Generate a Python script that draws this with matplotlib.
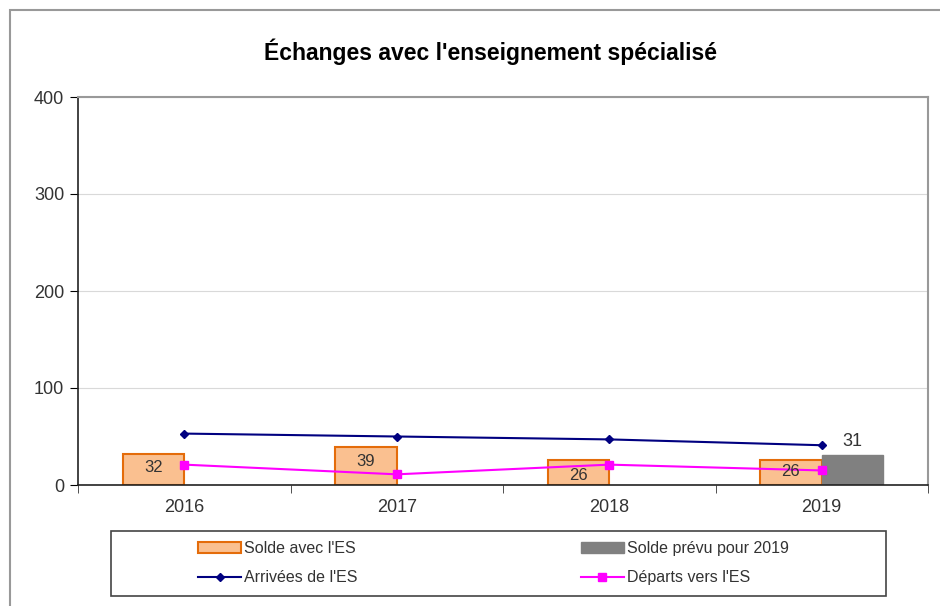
import matplotlib.pyplot as plt
import numpy as np
from matplotlib.patches import Rectangle

plt.rcParams["font.family"] = ["Liberation Sans", "DejaVu Sans"]

years = ["2016", "2017", "2018", "2019"]
solde = [32, 39, 26, 26]
solde_prevu = [0, 0, 0, 31]
arrivees = [53, 50, 47, 41]
departs = [21, 11, 21, 15]
label_y = [18, 24, 10, 14]

fig = plt.figure(figsize=(9.4, 6.06), dpi=100)
W, H = 940, 606
ax = fig.add_axes([78 / W, 1 - 485 / H, (928 - 78) / W, (485 - 97) / H])

x = np.arange(len(years))
width = 0.29
ax.bar(x - width / 2, solde, width=width, color="#FAC090", edgecolor="#E46C0A",
       linewidth=1.5, zorder=2, label="Solde avec l'ES")
ax.bar(x[-1:] + width / 2, solde_prevu[-1:], width=width, color="#808080",
       edgecolor="#808080", zorder=2, label="Solde prévu pour 2019")
ax.plot(x, arrivees, color="#000080", marker="D", markersize=4, linewidth=1.5,
        zorder=3, label="Arrivées de l'ES")
ax.plot(x, departs, color="#FF00FF", marker="s", markersize=6, linewidth=1.5,
        zorder=3, label="Départs vers l'ES")

for i, (v, ly) in enumerate(zip(solde, label_y)):
    ax.text(x[i] - width / 2, ly, str(v), ha="center", va="center", fontsize=12,
            color="#333333", zorder=4)
ax.text(x[-1] + width / 2, 45, str(solde_prevu[-1]), ha="center", va="center",
        fontsize=13, color="#333333", zorder=4)

ax.set_xlim(-0.5, len(years) - 0.5)
ax.set_ylim(0, 400)
ax.set_yticks([0, 100, 200, 300, 400])
ax.yaxis.grid(True, color="#d9d9d9", linewidth=0.8, zorder=0)
ax.set_axisbelow(True)
ax.set_xticks(x)
ax.set_xticklabels(years)
ax.set_xticks(np.arange(len(years) + 1) - 0.5, minor=True)
ax.tick_params(axis="x", which="major", length=0, pad=10, labelsize=13, labelcolor="#333333")
ax.tick_params(axis="x", which="minor", length=6, direction="out", color="#333333")
ax.tick_params(axis="y", length=6, direction="out", labelsize=13, labelcolor="#333333", pad=4)
for side in ("left", "bottom"):
    ax.spines[side].set_color("#222222")
    ax.spines[side].set_linewidth(1.2)
for side in ("top", "right"):
    ax.spines[side].set_color("#999999")
    ax.spines[side].set_linewidth(1.5)

fig.text(491 / W, 1 - 52 / H, "Échanges avec l'enseignement spécialisé",
         ha="center", va="center", fontsize=16.5, fontweight="bold")

# outer chart frame
fig.patches.append(Rectangle((10 / W, -0.1), 1.2, 1 - 10 / H + 0.1, transform=fig.transFigure,
                             fill=False, edgecolor="#999999", linewidth=1.5))
# legend frame
fig.patches.append(Rectangle((111 / W, 1 - 596 / H), (886 - 111) / W, (596 - 531) / H,
                             transform=fig.transFigure, fill=False, edgecolor="#444444",
                             linewidth=1.2))

handles, labels = ax.get_legend_handles_labels()
by_label = dict(zip(labels, handles))
order = ["Solde avec l'ES", "Arrivées de l'ES", "Solde prévu pour 2019", "Départs vers l'ES"]
fig.legend([by_label[k] for k in order], order, ncol=2,
           loc="center left", bbox_to_anchor=(190 / W, 1 - 563 / H), frameon=False,
           fontsize=11.5, handlelength=2.7, handletextpad=0.2, columnspacing=13.95,
           labelspacing=0.9, borderpad=0, labelcolor="#333333")

fig.savefig("out.png", dpi=100)
